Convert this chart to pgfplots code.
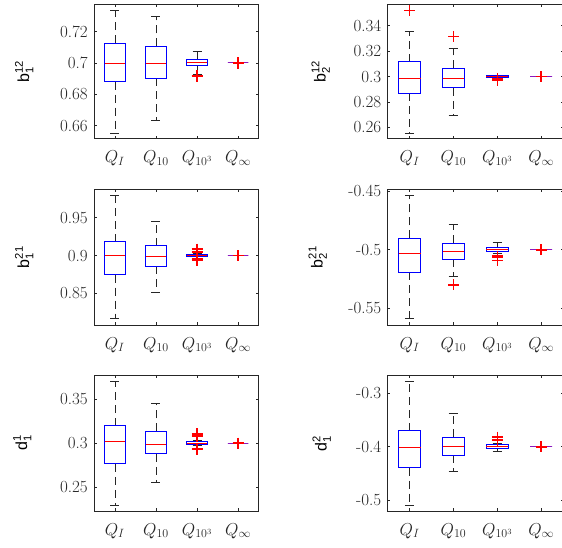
\documentclass[border=0pt]{standalone}
\usepackage{amsmath}
\usepackage{fontspec}
\setsansfont{Liberation Sans}
\usepackage{pgfplots}
\pgfplotsset{compat=1.18}
\usepgfplotslibrary{statistics}

\definecolor{axgray}{rgb}{0.15,0.15,0.15}
\definecolor{mblue}{rgb}{0,0,1}
\definecolor{mred}{rgb}{1,0,0}
\definecolor{mpurple}{rgb}{0.55,0.1,0.75}

\tikzset{lab/.style={anchor=center, text=black, inner sep=0pt, rotate=90,
    font=\fontsize{16}{19}\selectfont\sffamily}}

\pgfplotsset{
  panel/.style={
    scale only axis,
    anchor=north west,
    xmin=0.5, xmax=4.5,
    xtick={1,2,3,4},
    xticklabels={$Q_I$,$Q_{10}$,$Q_{10^3}$,$Q_\infty$},
    tick align=inside,
    major tick length=2.7pt,
    tick style={axgray, line width=0.6pt},
    axis line style={axgray, line width=0.8pt},
    ticklabel style={font=\fontsize{17}{20}\selectfont, text=axgray},
    xticklabel style={anchor=base, yshift=-24pt},
    yticklabel style={anchor=east, xshift=-3pt},
    boxplot/draw direction=y,
    boxplot/box extend=0.5,
    boxplot/whisker extend=0.22,
    boxplot/every box/.style={draw=mblue, line width=0.8pt},
    boxplot/every median/.style={draw=mred, line width=0.8pt},
    boxplot/draw/lower whisker/.code={%
      \draw[axgray, line width=0.7pt, dash pattern=on 8pt off 5pt]
        (boxplot cs:\pgfplotsboxplotvalue{lower quartile}) --
        (boxplot cs:\pgfplotsboxplotvalue{lower whisker});
      \draw[axgray, line width=0.7pt]
        (boxplot whisker cs:\pgfplotsboxplotvalue{lower whisker},0) --
        (boxplot whisker cs:\pgfplotsboxplotvalue{lower whisker},1);
    },
    boxplot/draw/upper whisker/.code={%
      \draw[axgray, line width=0.7pt, dash pattern=on 8pt off 5pt]
        (boxplot cs:\pgfplotsboxplotvalue{upper quartile}) --
        (boxplot cs:\pgfplotsboxplotvalue{upper whisker});
      \draw[axgray, line width=0.7pt]
        (boxplot whisker cs:\pgfplotsboxplotvalue{upper whisker},0) --
        (boxplot whisker cs:\pgfplotsboxplotvalue{upper whisker},1);
    },
    every axis plot/.append style={mark=+, mark size=5.5pt,
      mark options={draw=mred, line width=1.3pt}},
  },
  flat/.style={boxplot/whisker extend=0,
    boxplot/every box/.style={draw=mpurple, line width=1.1pt},
    boxplot/every median/.style={draw=mpurple, line width=1.1pt},
    mark options={draw=mred, line width=1.8pt}},
  leftp/.style={panel, width=164.4pt},
  rightp/.style={panel, width=175.5pt},
}

\begin{document}
\begin{tikzpicture}
\useasboundingbox (0pt,0pt) rectangle (562pt,-548pt);

% b_1^12
\begin{axis}[leftp, name=p1, at={(94.3pt,-4.7pt)}, height=134pt,
  ymin=0.6517, ymax=0.737,
  ytick={0.66,0.68,0.7,0.72}, yticklabels={0.66,0.68,0.7,0.72}]
  \addplot[boxplot prepared={draw position=1, lower whisker=0.6552,
    lower quartile=0.688, median=0.6998, upper quartile=0.7125,
    upper whisker=0.7331}] coordinates {};
  \addplot[boxplot prepared={draw position=2, lower whisker=0.6635,
    lower quartile=0.6903, median=0.6994, upper quartile=0.7104,
    upper whisker=0.7299}] coordinates {};
  \addplot[boxplot prepared={draw position=3, lower whisker=0.6924,
    lower quartile=0.6983, median=0.7004, upper quartile=0.7021,
    upper whisker=0.7070}] coordinates {(3,0.6917) (3,0.6913) (3,0.6920)};
  \addplot[flat, boxplot prepared={draw position=4, lower whisker=0.7,
    lower quartile=0.7, median=0.7, upper quartile=0.7,
    upper whisker=0.7}] coordinates {(4,0.6998) (4,0.7002)};
\end{axis}
\node[lab] at ([xshift=-70pt]p1.west) {b$^{\text{12}}_{\text{1}}$};

% b_2^12
\begin{axis}[rightp, name=p2, at={(387.7pt,-4.7pt)}, height=134pt,
  ymin=0.2511, ymax=0.3565,
  ytick={0.26,0.28,0.3,0.32,0.34}, yticklabels={0.26,0.28,0.3,0.32,0.34}]
  \addplot[boxplot prepared={draw position=1, lower whisker=0.2557,
    lower quartile=0.2869, median=0.2982, upper quartile=0.3116,
    upper whisker=0.3357}] coordinates {(1,0.352)};
  \addplot[boxplot prepared={draw position=2, lower whisker=0.2691,
    lower quartile=0.2911, median=0.2987, upper quartile=0.3065,
    upper whisker=0.322}] coordinates {(2,0.3315)};
  \addplot[boxplot prepared={draw position=3, lower whisker=0.2985,
    lower quartile=0.2992, median=0.2999, upper quartile=0.3005,
    upper whisker=0.3013}] coordinates {(3,0.2976) (3,0.2982) (3,0.2971)};
  \addplot[flat, boxplot prepared={draw position=4, lower whisker=0.3,
    lower quartile=0.3, median=0.3, upper quartile=0.3,
    upper whisker=0.3}] coordinates {(4,0.3)};
\end{axis}
\node[lab] at ([xshift=-67pt]p2.west) {b$^{\text{12}}_{\text{2}}$};

% b_1^21
\begin{axis}[leftp, name=p3, at={(94.3pt,-189.3pt)}, height=135.7pt,
  ymin=0.8081, ymax=0.9876,
  ytick={0.85,0.9,0.95}, yticklabels={0.85,0.9,0.95}]
  \addplot[boxplot prepared={draw position=1, lower whisker=0.8172,
    lower quartile=0.8749, median=0.9006, upper quartile=0.9185,
    upper whisker=0.9794}] coordinates {};
  \addplot[boxplot prepared={draw position=2, lower whisker=0.851,
    lower quartile=0.886, median=0.8987, upper quartile=0.9128,
    upper whisker=0.9446}] coordinates {};
  \addplot[boxplot prepared={draw position=3, lower whisker=0.8965,
    lower quartile=0.8985, median=0.8997, upper quartile=0.9010,
    upper whisker=0.9030}] coordinates {(3,0.9085) (3,0.9050) (3,0.9040)
    (3,0.8955) (3,0.8940)};
  \addplot[flat, boxplot prepared={draw position=4, lower whisker=0.9,
    lower quartile=0.9, median=0.9, upper quartile=0.9,
    upper whisker=0.9}] coordinates {(4,0.9)};
\end{axis}
\node[lab] at ([xshift=-70pt]p3.west) {b$^{\text{21}}_{\text{1}}$};

% b_2^21
\begin{axis}[rightp, name=p4, at={(387.7pt,-189.3pt)}, height=135.7pt,
  ymin=-0.5642, ymax=-0.4486,
  ytick={-0.55,-0.5,-0.45}, yticklabels={-0.55,-0.5,-0.45}]
  \addplot[boxplot prepared={draw position=1, lower whisker=-0.5582,
    lower quartile=-0.5193, median=-0.5034, upper quartile=-0.4904,
    upper whisker=-0.4537}] coordinates {};
  \addplot[boxplot prepared={draw position=2, lower whisker=-0.5224,
    lower quartile=-0.5083, median=-0.5011, upper quartile=-0.4943,
    upper whisker=-0.4787}] coordinates {(2,-0.5301)};
  \addplot[boxplot prepared={draw position=3, lower whisker=-0.5035,
    lower quartile=-0.5014, median=-0.4997, upper quartile=-0.4983,
    upper whisker=-0.4934}] coordinates {(3,-0.5055) (3,-0.5065) (3,-0.5092)};
  \addplot[flat, boxplot prepared={draw position=4, lower whisker=-0.5,
    lower quartile=-0.5, median=-0.5, upper quartile=-0.5,
    upper whisker=-0.5}] coordinates {(4,-0.5)};
\end{axis}
\node[lab] at ([xshift=-70pt]p4.west) {b$^{\text{21}}_{\text{2}}$};

% d_1^1
\begin{axis}[leftp, name=p5, at={(94.3pt,-375pt)}, height=136pt,
  ymin=0.2226, ymax=0.3777,
  ytick={0.25,0.3,0.35}, yticklabels={0.25,0.3,0.35}]
  \addplot[boxplot prepared={draw position=1, lower whisker=0.2296,
    lower quartile=0.2764, median=0.3018, upper quartile=0.3201,
    upper whisker=0.3707}] coordinates {};
  \addplot[boxplot prepared={draw position=2, lower whisker=0.2558,
    lower quartile=0.2878, median=0.2988, upper quartile=0.3133,
    upper whisker=0.3456}] coordinates {};
  \addplot[boxplot prepared={draw position=3, lower whisker=0.2970,
    lower quartile=0.2985, median=0.3000, upper quartile=0.3018,
    upper whisker=0.3030}] coordinates {(3,0.3105) (3,0.3090) (3,0.3075)
    (3,0.2940) (3,0.2925)};
  \addplot[flat, boxplot prepared={draw position=4, lower whisker=0.3,
    lower quartile=0.3, median=0.3, upper quartile=0.3,
    upper whisker=0.3}] coordinates {(4,0.3)};
\end{axis}
\node[lab] at ([xshift=-72pt]p5.west) {d$^{\text{1}}_{\text{1}}$};

% d_1^2
\begin{axis}[rightp, name=p6, at={(387.7pt,-375.7pt)}, height=135.3pt,
  ymin=-0.5206, ymax=-0.267,
  ytick={-0.5,-0.4,-0.3}, yticklabels={-0.5,-0.4,-0.3}]
  \addplot[boxplot prepared={draw position=1, lower whisker=-0.5093,
    lower quartile=-0.4394, median=-0.4012, upper quartile=-0.37,
    upper whisker=-0.2774}] coordinates {};
  \addplot[boxplot prepared={draw position=2, lower whisker=-0.4469,
    lower quartile=-0.4162, median=-0.3993, upper quartile=-0.3818,
    upper whisker=-0.3381}] coordinates {};
  \addplot[boxplot prepared={draw position=3, lower whisker=-0.4087,
    lower quartile=-0.4025, median=-0.4, upper quartile=-0.3963,
    upper whisker=-0.394}] coordinates {(3,-0.3820) (3,-0.3860) (3,-0.3890)};
  \addplot[flat, boxplot prepared={draw position=4, lower whisker=-0.4,
    lower quartile=-0.4, median=-0.4, upper quartile=-0.4,
    upper whisker=-0.4}] coordinates {(4,-0.4)};
\end{axis}
\node[lab] at ([xshift=-66pt]p6.west) {d$^{\text{2}}_{\text{1}}$};
\end{tikzpicture}
\end{document}
